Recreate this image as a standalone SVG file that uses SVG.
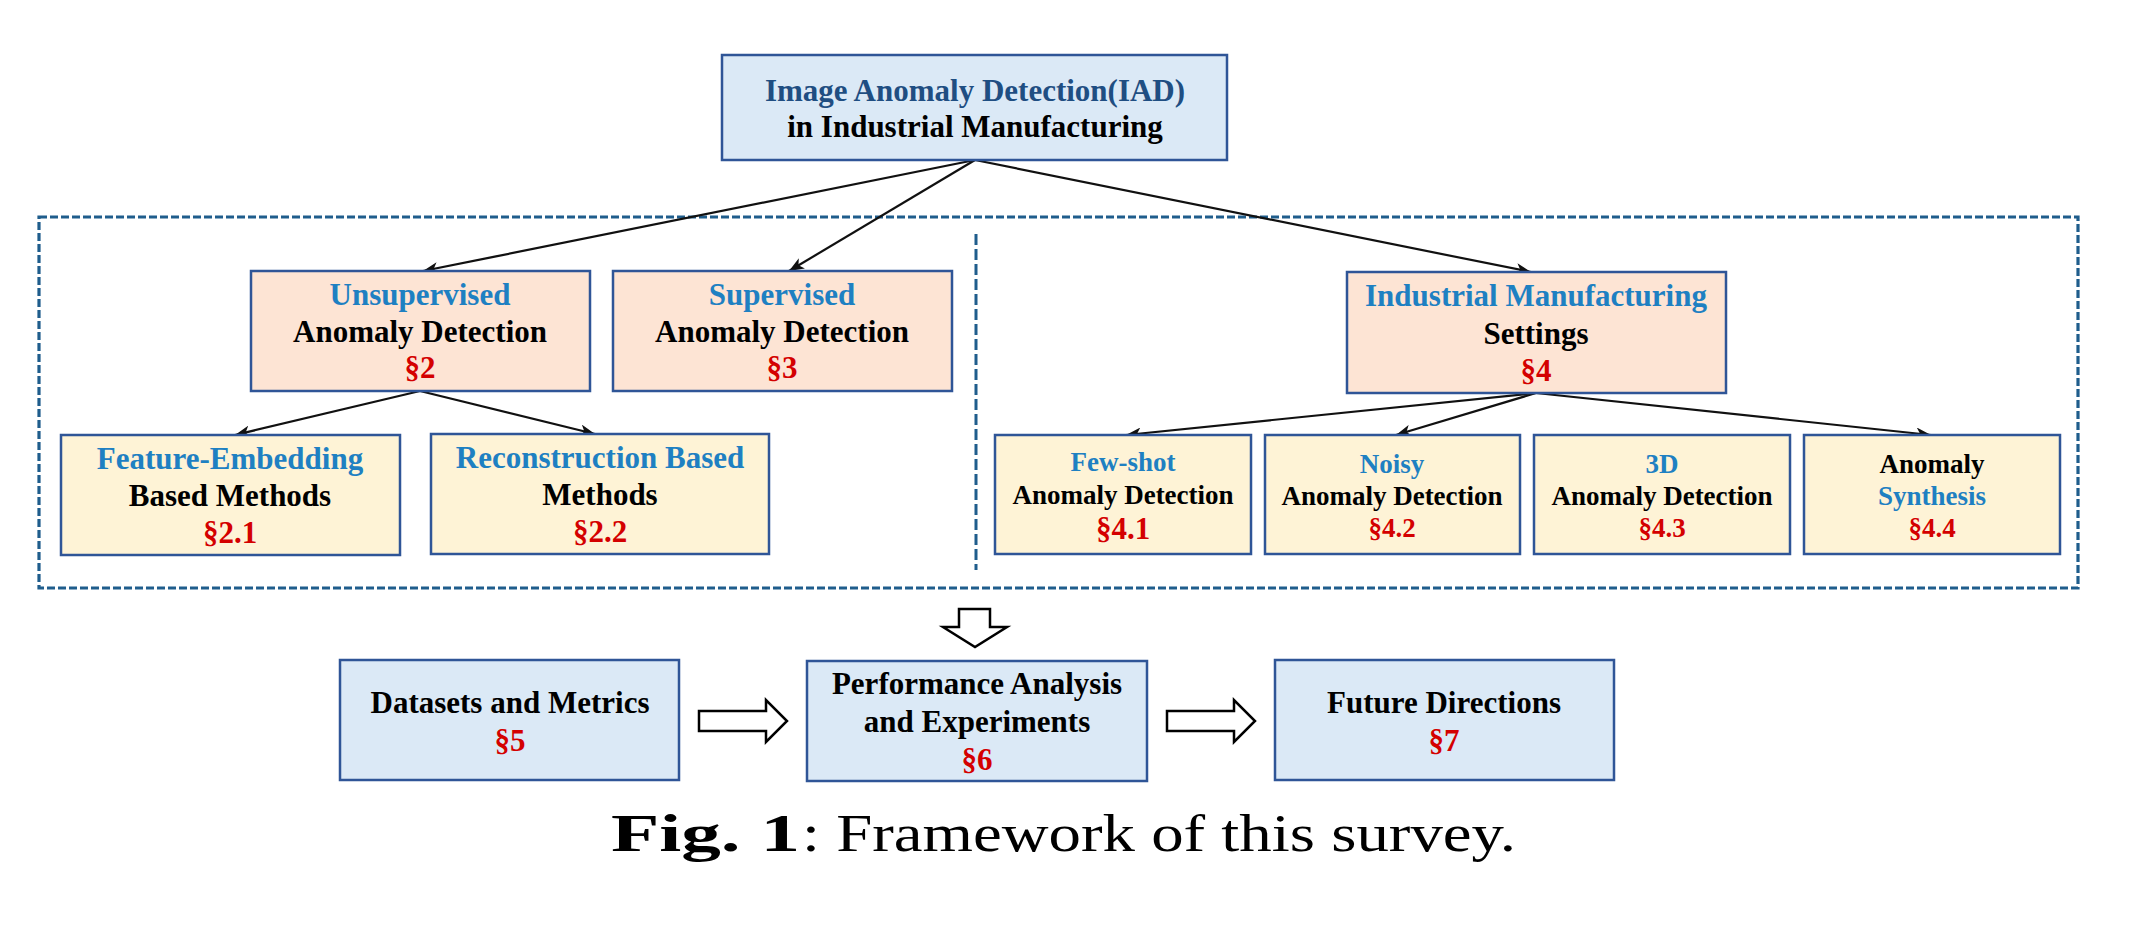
<svg xmlns="http://www.w3.org/2000/svg" width="2142" height="928" viewBox="0 0 2142 928">
<defs>
<style>
.t{font-family:"Liberation Serif","Times New Roman",serif;font-weight:bold;text-anchor:middle;}
.f31{font-size:31px;}
.f27{font-size:27px;}
.k{fill:#000;}
.b{fill:#1e80c2;}
.db{fill:#1f4e82;}
.r{fill:#d40000;}
.boxB{fill:#dbe9f6;stroke:#2f5597;stroke-width:2.5;}
.boxS{fill:#fde4d4;stroke:#2f5597;stroke-width:2.5;}
.boxY{fill:#fef3d6;stroke:#2f5597;stroke-width:2.5;}
.edge{stroke:#111;stroke-width:2.2;fill:none;marker-end:url(#ah);}
.hollow{fill:#fff;stroke:#000;stroke-width:2.5;stroke-linejoin:miter;}
.cap{font-family:"Liberation Serif","Times New Roman",serif;font-size:53px;fill:#000;}
</style>
<marker id="ah" viewBox="0 0 15 12" refX="15" refY="6" markerWidth="15" markerHeight="12" markerUnits="userSpaceOnUse" orient="auto">
<path d="M0,0 L15,6 L0,12 L4,6 z" fill="#111"/>
</marker>
</defs>
<rect width="2142" height="928" fill="#fff"/>

<!-- frame -->
<g id="frame">
<rect x="39" y="217" width="2039" height="371" fill="none" stroke="#1f5d8c" stroke-width="3.2" stroke-dasharray="8 3"/>
<line x1="976" y1="234" x2="976" y2="570" stroke="#1f5d8c" stroke-width="3" stroke-dasharray="11 4"/>
</g>

<g id="connectors">
<line class="edge" x1="975" y1="160" x2="423" y2="271"/>
<line class="edge" x1="975" y1="160" x2="789" y2="271"/>
<line class="edge" x1="975" y1="160" x2="1531" y2="272"/>
<line class="edge" x1="420" y1="391" x2="235" y2="435"/>
<line class="edge" x1="420" y1="391" x2="595" y2="434"/>
<line class="edge" x1="1536" y1="393" x2="1126" y2="435"/>
<line class="edge" x1="1536" y1="393" x2="1396" y2="435"/>
<line class="edge" x1="1536" y1="393" x2="1931" y2="435"/>
<path class="hollow" d="M959,609 L990,609 L990,627 L1007,627 L975,647 L943,627 L959,627 Z"/>
<path class="hollow" d="M699,711 L766,711 L766,700 L787,721 L766,742 L766,731 L699,731 Z"/>
<path class="hollow" d="M1167,711 L1234,711 L1234,700 L1255,721 L1234,742 L1234,731 L1167,731 Z"/>
</g>

<g id="root">
<rect class="boxB" x="722" y="55" width="505" height="105"/>
<text class="t f31 db" x="975" y="101">Image Anomaly Detection(IAD)</text>
<text class="t f31 k" x="975" y="137">in Industrial Manufacturing</text>
</g>

<g id="unsupervised">
<rect class="boxS" x="251" y="271" width="339" height="120"/>
<text class="t f31 b" x="420" y="305">Unsupervised</text>
<text class="t f31 k" x="420" y="342">Anomaly Detection</text>
<text class="t f31 r" x="420" y="378">§2</text>
</g>

<g id="supervised">
<rect class="boxS" x="613" y="271" width="339" height="120"/>
<text class="t f31 b" x="782" y="305">Supervised</text>
<text class="t f31 k" x="782" y="342">Anomaly Detection</text>
<text class="t f31 r" x="782" y="378">§3</text>
</g>

<g id="industrial">
<rect class="boxS" x="1347" y="272" width="379" height="121"/>
<text class="t f31 b" x="1536" y="306">Industrial Manufacturing</text>
<text class="t f31 k" x="1536" y="344">Settings</text>
<text class="t f31 r" x="1536" y="381">§4</text>
</g>

<g id="feature">
<rect class="boxY" x="61" y="435" width="339" height="120"/>
<text class="t f31 b" x="230" y="469">Feature-Embedding</text>
<text class="t f31 k" x="230" y="506">Based Methods</text>
<text class="t f31 r" x="230" y="543">§2.1</text>
</g>

<g id="reconstruction">
<rect class="boxY" x="431" y="434" width="338" height="120"/>
<text class="t f31 b" x="600" y="468">Reconstruction Based</text>
<text class="t f31 k" x="600" y="505">Methods</text>
<text class="t f31 r" x="600" y="542">§2.2</text>
</g>

<g id="fewshot">
<rect class="boxY" x="995" y="435" width="256" height="119"/>
<text class="t f27 b" x="1123" y="471">Few-shot</text>
<text class="t f27 k" x="1123" y="504">Anomaly Detection</text>
<text class="t f31 r" x="1123" y="539">§4.1</text>
</g>

<g id="noisy">
<rect class="boxY" x="1265" y="435" width="255" height="119"/>
<text class="t f27 b" x="1392" y="473">Noisy</text>
<text class="t f27 k" x="1392" y="505">Anomaly Detection</text>
<text class="t f27 r" x="1392" y="537">§4.2</text>
</g>

<g id="threed">
<rect class="boxY" x="1534" y="435" width="256" height="119"/>
<text class="t f27 b" x="1662" y="473">3D</text>
<text class="t f27 k" x="1662" y="505">Anomaly Detection</text>
<text class="t f27 r" x="1662" y="537">§4.3</text>
</g>

<g id="synthesis">
<rect class="boxY" x="1804" y="435" width="256" height="119"/>
<text class="t f27 k" x="1932" y="473">Anomaly</text>
<text class="t f27 b" x="1932" y="505">Synthesis</text>
<text class="t f27 r" x="1932" y="537">§4.4</text>
</g>

<g id="datasets">
<rect class="boxB" x="340" y="660" width="339" height="120"/>
<text class="t f31 k" x="510" y="713">Datasets and Metrics</text>
<text class="t f31 r" x="510" y="751">§5</text>
</g>

<g id="performance">
<rect class="boxB" x="807" y="661" width="340" height="120"/>
<text class="t f31 k" x="977" y="694">Performance Analysis</text>
<text class="t f31 k" x="977" y="732">and Experiments</text>
<text class="t f31 r" x="977" y="770">§6</text>
</g>

<g id="future">
<rect class="boxB" x="1275" y="660" width="339" height="120"/>
<text class="t f31 k" x="1444" y="713">Future Directions</text>
<text class="t f31 r" x="1444" y="751">§7</text>
</g>

<g id="caption">
<text class="cap" x="611" y="851" font-weight="bold" textLength="189" lengthAdjust="spacingAndGlyphs">Fig. 1</text>
<text class="cap" x="802" y="851" textLength="714" lengthAdjust="spacingAndGlyphs">: Framework of this survey.</text>
</g>
</svg>
